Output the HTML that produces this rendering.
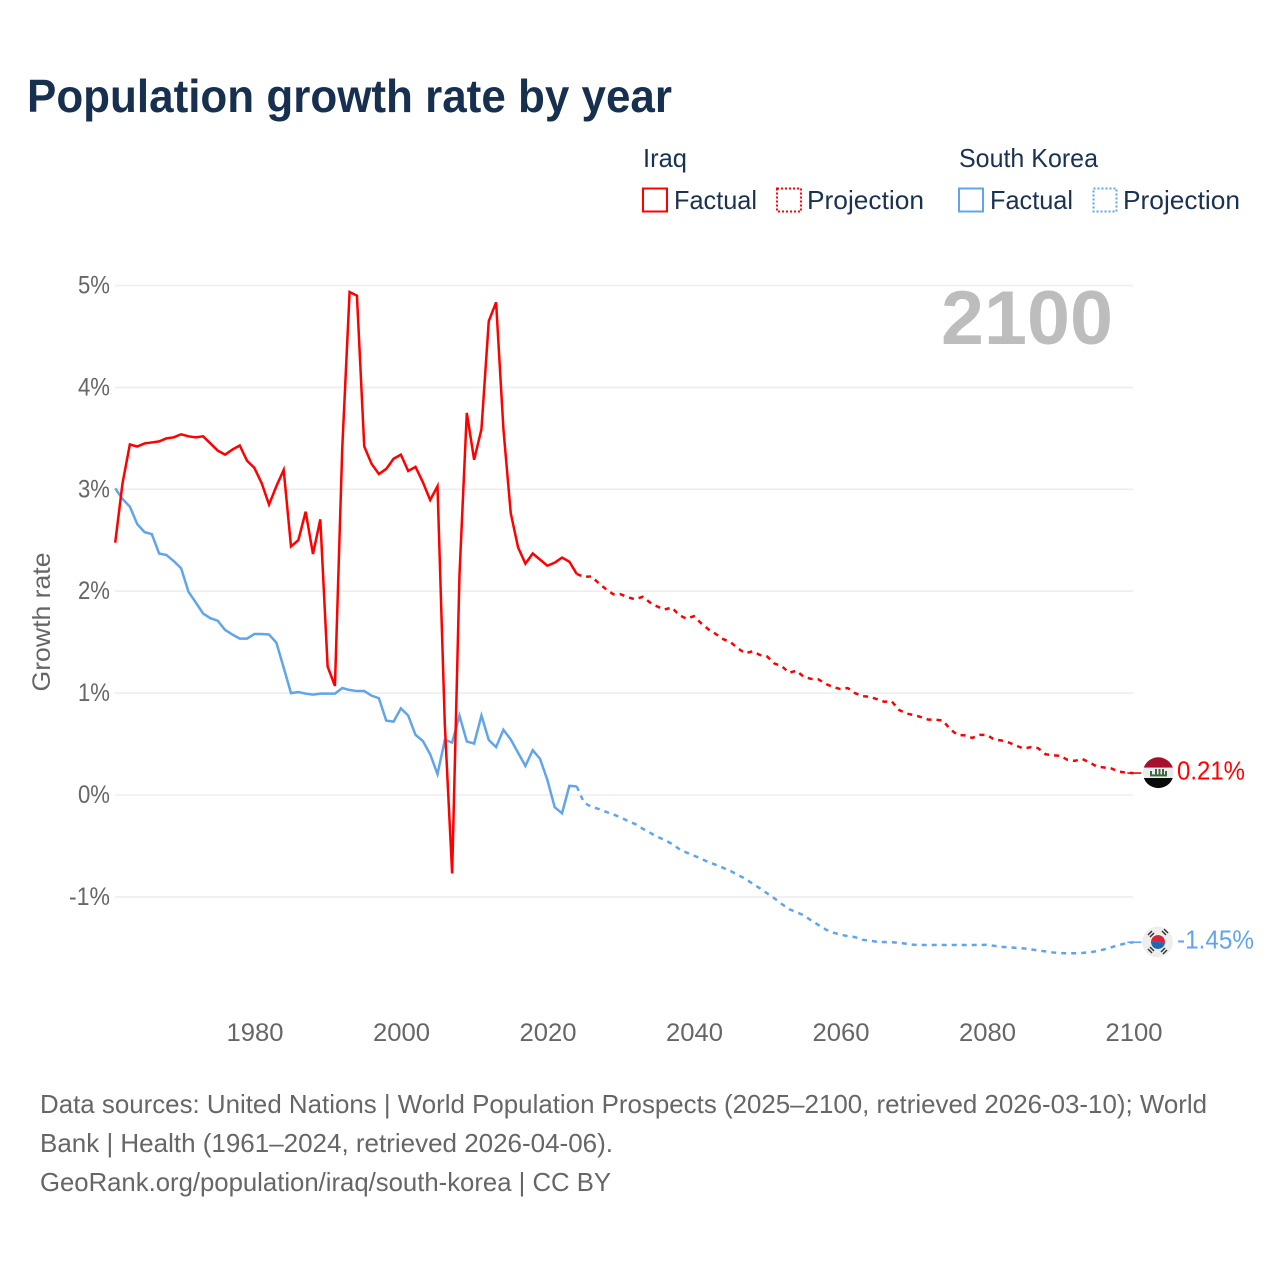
<!DOCTYPE html>
<html lang="en">
<head>
<meta charset="utf-8">
<title>Population growth rate by year</title>
<style>
html,body{margin:0;padding:0;background:#fff;width:1280px;height:1280px;overflow:hidden}
svg{display:block}
text{font-family:"Liberation Sans",sans-serif}
</style>
</head>
<body>
<svg id="chart" width="1280" height="1280" viewBox="0 0 1280 1280" xmlns="http://www.w3.org/2000/svg">
  <rect width="1280" height="1280" fill="#fff"/>
  <text x="27" y="112" font-size="46" font-weight="700" fill="#17304f" textLength="645" lengthAdjust="spacingAndGlyphs">Population growth rate by year</text>

  <g fill="#1a3252" font-size="26">
    <text x="643" y="167" textLength="44" lengthAdjust="spacingAndGlyphs">Iraq</text>
    <text x="959" y="167" textLength="139" lengthAdjust="spacingAndGlyphs">South Korea</text>
    <rect x="643" y="188.5" width="24" height="23" fill="none" stroke="#ff0000" stroke-width="2"/>
    <text x="674" y="209" textLength="83" lengthAdjust="spacingAndGlyphs">Factual</text>
    <rect x="777" y="188.5" width="24" height="23" fill="none" stroke="#ff0000" stroke-width="2" stroke-dasharray="2 2"/>
    <text x="807" y="209" textLength="117" lengthAdjust="spacingAndGlyphs">Projection</text>
    <rect x="959" y="188.5" width="24" height="23" fill="none" stroke="#60a5ec" stroke-width="2"/>
    <text x="990" y="209" textLength="83" lengthAdjust="spacingAndGlyphs">Factual</text>
    <rect x="1093.5" y="188.5" width="23" height="23" fill="none" stroke="#60a5ec" stroke-width="2" stroke-dasharray="2 2"/>
    <text x="1123" y="209" textLength="117" lengthAdjust="spacingAndGlyphs">Projection</text>
  </g>

  <g id="grid"></g>
  <text x="1113" y="344" text-anchor="end" font-size="76" font-weight="700" fill="#bdbdbd" textLength="172" lengthAdjust="spacingAndGlyphs">2100</text>
  <g id="yticks"></g>
  <g id="xticks"></g>
  <text transform="translate(50 622) rotate(-90)" text-anchor="middle" font-size="25" fill="#666" textLength="139" lengthAdjust="spacingAndGlyphs">Growth rate</text>
  <g id="series"></g>

  <g>
    <clipPath id="iraqClip"><circle cx="1158.3" cy="772.7" r="15.4"/></clipPath>
    <g clip-path="url(#iraqClip)">
      <rect x="1142" y="757" width="33" height="10.7" fill="#a5102c"/>
      <rect x="1142" y="767.7" width="33" height="10.3" fill="#ececec"/>
      <rect x="1142" y="778" width="33" height="11" fill="#0a0a0a"/>
      <g fill="#3f6b3c">
        <rect x="1150" y="774.4" width="17" height="2"/>
        <rect x="1150" y="771" width="2" height="5"/>
        <rect x="1155" y="769" width="2" height="6"/>
        <rect x="1158.5" y="769" width="2" height="6"/>
        <rect x="1162" y="769" width="2" height="6"/>
        <rect x="1165" y="771" width="2" height="4"/>
      </g>
    </g>
  </g>
  <g>
    <circle cx="1157.5" cy="942" r="15.4" fill="#eeeeee"/>
    <path d="M1151 942A7 7 0 0 1 1165 942Z" fill="#d8243a" transform="rotate(8 1158 942)"/>
    <path d="M1151 942A7 7 0 0 0 1165 942Z" fill="#1d68b4" transform="rotate(8 1158 942)"/>
    <g stroke="#333" stroke-width="1.5">
      <path d="M1148 935l4 -4M1150 937l4 -4"/>
      <path d="M1162 931l4 4M1164 929l4 4"/>
      <path d="M1148 949l4 4M1150 947l4 4"/>
      <path d="M1165 948l-4 4M1167 950l-4 4"/>
    </g>
  </g>
  <g id="endlabels"></g>

  <g fill="#666" font-size="26">
    <text x="40" y="1113" textLength="1167" lengthAdjust="spacingAndGlyphs">Data sources: United Nations | World Population Prospects (2025–2100, retrieved 2026-03-10); World</text>
    <text x="40" y="1152" textLength="573" lengthAdjust="spacingAndGlyphs">Bank | Health (1961–2024, retrieved 2026-04-06).</text>
    <text x="40" y="1191" textLength="571" lengthAdjust="spacingAndGlyphs">GeoRank.org/population/iraq/south-korea | CC BY</text>
  </g>
</svg>
<script>
const factualYears = [1961,1962,1963,1964,1965,1966,1967,1968,1969,1970,1971,1972,1973,1974,1975,1976,1977,1978,1979,1980,1981,1982,1983,1984,1985,1986,1987,1988,1989,1990,1991,1992,1993,1994,1995,1996,1997,1998,1999,2000,2001,2002,2003,2004,2005,2006,2007,2008,2009,2010,2011,2012,2013,2014,2015,2016,2017,2018,2019,2020,2021,2022,2023,2024];
const projectionYears = [2024,2025,2026,2027,2028,2029,2030,2031,2032,2033,2034,2035,2036,2037,2038,2039,2040,2041,2042,2043,2044,2045,2046,2047,2048,2049,2050,2051,2052,2053,2054,2055,2056,2057,2058,2059,2060,2061,2062,2063,2064,2065,2066,2067,2068,2069,2070,2071,2072,2073,2074,2075,2076,2077,2078,2079,2080,2081,2082,2083,2084,2085,2086,2087,2088,2089,2090,2091,2092,2093,2094,2095,2096,2097,2098,2099,2100];
const iraqFactual = [2.476,3.06,3.44,3.42,3.45,3.46,3.47,3.5,3.51,3.54,3.52,3.51,3.52,3.45,3.38,3.34,3.39,3.43,3.28,3.21,3.06,2.85,3.03,3.19,2.44,2.5,2.78,2.365,2.705,1.26,1.07,3.41,4.936,4.9,3.42,3.25,3.15,3.2,3.3,3.34,3.18,3.22,3.07,2.895,3.03,0.69,-0.77,2.16,3.75,3.29,3.59,4.65,4.835,3.59,2.765,2.43,2.27,2.37,2.31,2.25,2.28,2.33,2.29,2.17];
const iraqProjection = [2.17,2.14,2.145,2.08,2.02,1.97,1.97,1.94,1.92,1.945,1.89,1.85,1.82,1.84,1.765,1.73,1.755,1.685,1.625,1.58,1.53,1.5,1.44,1.39,1.41,1.375,1.36,1.29,1.265,1.2,1.22,1.16,1.14,1.135,1.09,1.06,1.04,1.05,1.0,0.97,0.965,0.94,0.915,0.92,0.835,0.8,0.785,0.765,0.74,0.74,0.73,0.645,0.59,0.585,0.56,0.59,0.59,0.545,0.535,0.515,0.485,0.455,0.47,0.46,0.4,0.39,0.385,0.345,0.335,0.355,0.32,0.28,0.27,0.26,0.23,0.22,0.215];
const koreaFactual = [3.01,2.905,2.83,2.66,2.58,2.56,2.37,2.355,2.295,2.225,1.995,1.89,1.78,1.735,1.71,1.62,1.575,1.535,1.535,1.58,1.58,1.575,1.495,1.25,1.0,1.01,0.995,0.985,0.995,0.995,0.995,1.05,1.03,1.02,1.02,0.975,0.95,0.73,0.72,0.85,0.78,0.59,0.53,0.4,0.205,0.54,0.515,0.78,0.525,0.505,0.78,0.54,0.47,0.64,0.545,0.415,0.285,0.44,0.355,0.147,-0.12,-0.18,0.09,0.085];
const koreaProjection = [0.085,-0.075,-0.115,-0.137,-0.165,-0.19,-0.22,-0.255,-0.285,-0.33,-0.37,-0.41,-0.44,-0.48,-0.53,-0.565,-0.595,-0.625,-0.66,-0.685,-0.715,-0.745,-0.785,-0.82,-0.87,-0.915,-0.965,-1.015,-1.07,-1.12,-1.15,-1.18,-1.23,-1.275,-1.32,-1.35,-1.37,-1.385,-1.395,-1.42,-1.43,-1.44,-1.443,-1.445,-1.45,-1.46,-1.47,-1.472,-1.472,-1.472,-1.472,-1.472,-1.472,-1.472,-1.472,-1.472,-1.47,-1.48,-1.49,-1.495,-1.5,-1.505,-1.515,-1.525,-1.535,-1.545,-1.552,-1.553,-1.553,-1.55,-1.543,-1.533,-1.515,-1.495,-1.472,-1.455,-1.445];
const xTickYears = [1980,2000,2020,2040,2060,2080,2100];
const yTickValues = [-1,0,1,2,3,4,5];
const yTickLabels = ["-1%","0%","1%","2%","3%","4%","5%"];
const endLabelIraq = "0.21%";
const endLabelKorea = "-1.45%";

const SVG_NS = "http://www.w3.org/2000/svg";
function xScale(year){ return 115.2 + 7.325 * (year - 1961); }
function yScale(value){ return 795 - 101.9 * value; }
function pathFrom(years, values){
  return years.map(function(yr, i){
    return (i ? "L" : "M") + xScale(yr).toFixed(2) + " " + yScale(values[i]).toFixed(2);
  }).join("");
}

const gridGroup = document.getElementById("grid");
const yGroup = document.getElementById("yticks");
yTickValues.forEach(function(v, i){
  const line = document.createElementNS(SVG_NS, "line");
  
  
  line.setAttribute("x1", 115);
  line.setAttribute("x2", 1133);
  line.setAttribute("y1", yScale(v));
  line.setAttribute("y2", yScale(v));
  line.setAttribute("stroke", "#eeeeee");
  line.setAttribute("stroke-width", "1.6");
  gridGroup.appendChild(line);
  const t = document.createElementNS(SVG_NS, "text");
  
  
  t.setAttribute("x", 110);
  t.setAttribute("y", yScale(v) + 8);
  t.setAttribute("text-anchor", "end");
  t.setAttribute("font-size", "25");
  t.setAttribute("fill", "#666");
  t.setAttribute("textLength", yTickLabels[i].length > 2 ? "41" : "32");
  t.setAttribute("lengthAdjust", "spacingAndGlyphs");
  t.textContent = yTickLabels[i];
  yGroup.appendChild(t);
});

const xGroup = document.getElementById("xticks");
xTickYears.forEach(function(yr){
  const t = document.createElementNS(SVG_NS, "text");
  
  
  t.setAttribute("x", xScale(yr) + 0.6);
  t.setAttribute("y", 1041);
  t.setAttribute("text-anchor", "middle");
  t.setAttribute("font-size", "25");
  t.setAttribute("fill", "#666");
  t.setAttribute("textLength", "57");
  t.setAttribute("lengthAdjust", "spacingAndGlyphs");
  t.textContent = String(yr);
  xGroup.appendChild(t);
});

const seriesGroup = document.getElementById("series");
function addLine(name, years, values, color, dashed){
  const p = document.createElementNS(SVG_NS, "path");
  
  
  p.setAttribute("d", pathFrom(years, values));
  p.setAttribute("fill", "none");
  p.setAttribute("stroke", color);
  p.setAttribute("stroke-width", "2.5");
  p.setAttribute("stroke-linejoin", "miter");
  if (dashed) p.setAttribute("stroke-dasharray", "5 5");
  seriesGroup.appendChild(p);
}
addLine("iraq-projection-line", projectionYears, iraqProjection, "#ff0000", true);
addLine("korea-projection-line", projectionYears, koreaProjection, "#60a5ec", true);
addLine("korea-factual-line", factualYears, koreaFactual, "#60a5ec", false);
addLine("iraq-factual-line", factualYears, iraqFactual, "#ff0000", false);

const endGroup = document.getElementById("endlabels");
function addEnd(name, values, label, color, width){
  const v = values[values.length - 1];
  const last = projectionYears[projectionYears.length - 1];
  const c = document.createElementNS(SVG_NS, "line");
  
  
  c.setAttribute("x1", xScale(last) - 6);
  c.setAttribute("x2", xScale(last) + 8);
  c.setAttribute("y1", yScale(v));
  c.setAttribute("y2", yScale(v));
  c.setAttribute("stroke", color);
  c.setAttribute("stroke-width", "1.6");
  endGroup.appendChild(c);
  const t = document.createElementNS(SVG_NS, "text");
  
  
  t.setAttribute("x", 1177);
  t.setAttribute("y", yScale(v) + 6.5);
  t.setAttribute("font-size", "26");
  t.setAttribute("fill", color);
  t.setAttribute("textLength", width);
  t.setAttribute("lengthAdjust", "spacingAndGlyphs");
  t.textContent = label;
  endGroup.appendChild(t);
}
addEnd("iraq-end-label", iraqProjection, endLabelIraq, "#ff0000", "68");
addEnd("korea-end-label", koreaProjection, endLabelKorea, "#60a5ec", "77");
</script>
</body>
</html>
